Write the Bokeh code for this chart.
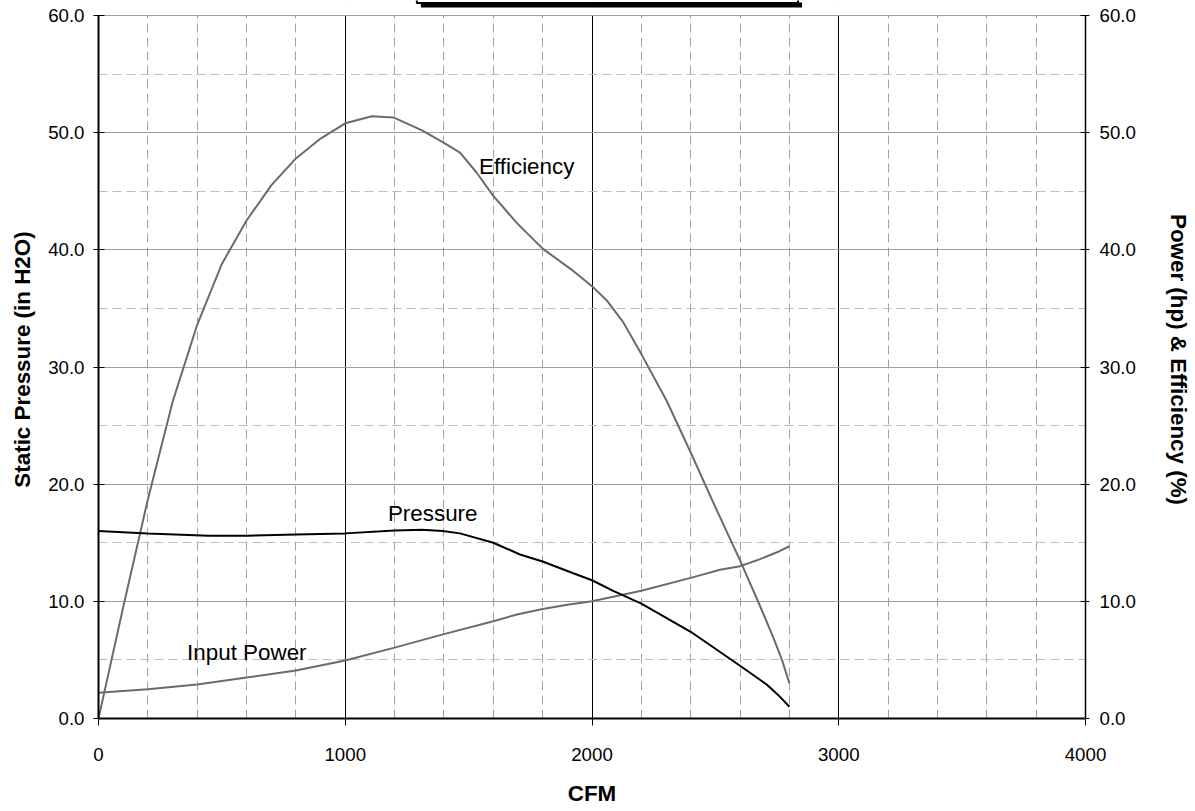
from bokeh.plotting import figure
from bokeh.models import Range1d, LinearAxis, FixedTicker, PrintfTickFormatter, Label
from bokeh.embed import file_html
from bokeh.resources import INLINE

# ---- data ----
cfm_eff = [0, 100, 200, 300, 400, 500, 600, 700, 800, 900, 1000, 1108, 1195, 1311, 1395,
           1465, 1532, 1600, 1695, 1800, 1924, 2000, 2059, 2127, 2200, 2303, 2400, 2492, 2600,
           2681, 2735, 2770, 2800]
efficiency = [0, 9.5, 18.7, 27.0, 33.6, 38.8, 42.5, 45.5, 47.8, 49.5, 50.8, 51.4, 51.3,
              50.2, 49.2, 48.3, 46.6, 44.6, 42.3, 40.1, 38.2, 36.9, 35.7, 33.8, 31.1, 27.1, 22.7,
              18.4, 13.5, 9.6, 6.9, 5.0, 3.0]

cfm_pres = [0, 200, 446, 600, 800, 1000, 1200, 1311, 1395, 1465, 1600, 1708, 1800, 1924,
            2000, 2086, 2200, 2400, 2600, 2708, 2762, 2800]
pressure = [16.0, 15.8, 15.6, 15.6, 15.7, 15.8, 16.05, 16.1, 16.0, 15.8, 15.0, 14.0, 13.4, 12.4,
            11.8, 10.9, 9.8, 7.4, 4.5, 2.9, 1.85, 1.0]

cfm_pow = [0, 200, 400, 600, 800, 1000, 1200, 1400, 1600, 1700, 1800, 1900, 2000, 2200, 2400,
           2519, 2600, 2681, 2762, 2800]
power = [2.2, 2.5, 2.9, 3.5, 4.1, 4.95, 6.05, 7.2, 8.3, 8.9, 9.35, 9.7, 10.0, 10.9, 12.0,
         12.7, 13.0, 13.6, 14.3, 14.7]

x_major = [0, 1000, 2000, 3000, 4000]
x_minor = [v for v in range(0, 4001, 200) if v % 1000]
y_major = [0, 10, 20, 30, 40, 50, 60]
y_minor = [5, 15, 25, 35, 45, 55]

FONT = "Liberation Sans"
TICK_SIZE = "18.7px"
TITLE_SIZE = "22.4px"

W, H = 1193, 810
LEFT, RIGHT, BOTTOM = 98, 106, 92
FRAME_H = H - BOTTOM          # frame runs from the very top of the canvas
TOP_GAP = 15                  # pixels between canvas top and the 60.0 line
Y_TOP = 60 * FRAME_H / (FRAME_H - TOP_GAP)

p = figure(width=W, height=H, output_backend="svg", toolbar_location=None,
           x_range=Range1d(0, 4000), y_range=Range1d(0, Y_TOP),
           min_border_left=LEFT, min_border_right=RIGHT, min_border_top=0,
           min_border_bottom=BOTTOM)
p.outline_line_color = None
p.background_fill_color = "white"
p.border_fill_color = "white"
p.extra_y_ranges = {"right": Range1d(0, Y_TOP), "px": Range1d(FRAME_H, 0)}
p.extra_x_ranges = {"px": Range1d(LEFT, W - RIGHT)}

xt = FixedTicker(ticks=x_major, minor_ticks=x_minor)
yt = FixedTicker(ticks=y_major, minor_ticks=y_minor)
p.xaxis.ticker = xt
p.yaxis.ticker = yt
p.xgrid.ticker = xt
p.ygrid.ticker = yt
p.yaxis.formatter = PrintfTickFormatter(format="%.1f")

right = LinearAxis(y_range_name="right", ticker=FixedTicker(ticks=y_major, minor_ticks=y_minor),
                   formatter=PrintfTickFormatter(format="%.1f"),
                   axis_label="Power (hp) & Efficiency (%)")
p.add_layout(right, "right")

p.yaxis[0].axis_label = "Static Pressure (in H2O)"
p.xaxis[0].axis_label = "CFM"

for ax in [p.xaxis[0], p.yaxis[0], right]:
    ax.major_label_text_font = FONT
    ax.major_label_text_font_size = TICK_SIZE
    ax.major_label_text_color = "black"
    ax.axis_label_text_font = FONT
    ax.axis_label_text_font_size = TITLE_SIZE
    ax.axis_label_text_font_style = "bold"
    ax.axis_label_text_color = "black"
    ax.minor_tick_line_color = None
    ax.major_tick_line_color = "black"
    ax.axis_line_color = "black"

p.yaxis[0].bounds = (0, 60)
right.bounds = (0, 60)

p.yaxis[0].axis_line_width = 2
p.yaxis[0].major_tick_in = 6
p.yaxis[0].major_tick_out = 5
p.yaxis[0].major_label_standoff = 9
p.yaxis[0].axis_label_standoff = 10

right.axis_line_width = 1.5
right.major_tick_in = 5
right.major_tick_out = 4
right.major_label_standoff = 10
right.axis_label_standoff = 27

p.xaxis[0].axis_line_width = 2
p.xaxis[0].major_tick_in = 0
p.xaxis[0].major_tick_out = 7
p.xaxis[0].major_label_standoff = 22
p.xaxis[0].axis_label_standoff = 17

# grids
p.xgrid.grid_line_color = "black"
p.xgrid.grid_line_width = 1
p.xgrid.minor_grid_line_color = "#a3a3a3"
p.xgrid.minor_grid_line_dash = "9 5"
p.xgrid.minor_grid_line_width = 1
p.ygrid.grid_line_color = "#a0a0a0"
p.ygrid.grid_line_width = 1
p.ygrid.minor_grid_line_color = "#bdbdbd"
p.ygrid.minor_grid_line_dash = "9 5"
p.ygrid.minor_grid_line_width = 1

# white strip above the 60.0 line, and the clipped title box sitting in it
p.quad(left=[LEFT - 1], right=[W - RIGHT + 1], top=[-1], bottom=[TOP_GAP - 0.5],
       x_range_name="px", y_range_name="px", fill_color="white", line_color=None)
p.quad(left=[421], right=[803], top=[2], bottom=[7],
       x_range_name="px", y_range_name="px", fill_color="black", line_color=None)
p.quad(left=[417], right=[799], top=[-3], bottom=[2.5],
       x_range_name="px", y_range_name="px", fill_color="white",
       line_color="black", line_width=2)

# curves
p.line(cfm_eff, efficiency, line_color="#6b6b6b", line_width=2)
p.line(cfm_pow, power, line_color="#6b6b6b", line_width=2)
p.line(cfm_pres, pressure, line_color="black", line_width=2)

# curve labels
for txt, lx, ly in [("Efficiency", 1542, 47.1), ("Pressure", 1173, 17.5), ("Input Power", 359, 5.6)]:
    p.add_layout(Label(x=lx, y=ly, text=txt, text_font=FONT, text_font_size=TITLE_SIZE,
                       text_align="left", text_baseline="middle", text_color="black"))

open("out.html", "w").write(file_html(p, INLINE))
